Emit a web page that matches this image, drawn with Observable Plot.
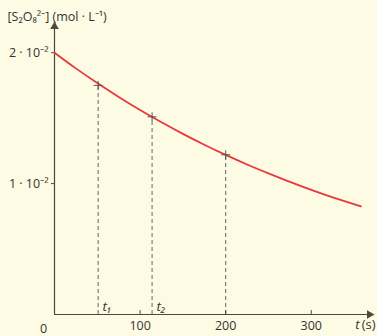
<!DOCTYPE html>
<html><head><meta charset="utf-8">
<script src="https://cdn.jsdelivr.net/npm/d3@7"></script>
<script src="https://cdn.jsdelivr.net/npm/@observablehq/plot@0.6"></script>
<style>
html,body{margin:0;padding:0;background:#fdfbe3;}
</style></head>
<body><div id="chart"></div>
<script>
// curve readings: time (s) and concentration (mol/L)
const times = [0, 25, 50, 75, 100, 125, 150, 175, 200, 225, 250, 275, 300, 325, 358];
const concs = [0.0200, 0.0188, 0.01768, 0.01662, 0.01562, 0.01468, 0.0138, 0.01297, 0.01219, 0.01146, 0.01078, 0.01013, 0.00952, 0.00895, 0.00826];
// marked points
const markTimes = [51, 114, 200];
const markConcs = [0.0175, 0.0151, 0.0122];
const markLabels = ["t\u2081", "t\u2082", ""];
// ticks
const xTicks = [100, 200, 300];
const yTicks = [0.01, 0.02];
const yTickLabels = ["1 \u00b7 10\u207b\u00b2", "2 \u00b7 10\u207b\u00b2"];
const yTitle = "[S\u2082O\u2088\u00b2\u207b] (mol \u00b7 L\u207b\u00b9)";

const curve = times.map((t, i) => ({t, c: concs[i]}));
const marks = markTimes.map((t, i) => ({t, c: markConcs[i], label: markLabels[i]}));
const axisColor = "#4a4a40";
const font = "Open Sans, sans-serif";

const plot = Plot.plot({
  width: 377, height: 336,
  marginLeft: 54, marginRight: 8, marginTop: 26, marginBottom: 22,
  style: {background: "#fdfbe3", fontFamily: font, fontSize: "12px", color: "#333"},
  x: {domain: [0, 368]},
  y: {domain: [0, 0.022]},
  marks: [
    Plot.ruleX(marks, {x: "t", y1: 0, y2: "c", stroke: "#666", strokeDasharray: "4,3", strokeWidth: 1}),
    Plot.ruleX([0], {stroke: axisColor, strokeWidth: 1.2}),
    Plot.ruleY([0], {stroke: axisColor, strokeWidth: 1.2}),
    Plot.dot([0], {x: 0, y: 0.022, symbol: "triangle", r: 3.2, fill: axisColor, stroke: null}),
    Plot.dot([0], {x: 368, y: 0, symbol: "triangle", rotate: 90, r: 3.2, fill: axisColor, stroke: null}),
    Plot.axisY({ticks: yTicks, tickFormat: (d) => yTickLabels[yTicks.indexOf(d)], tickSize: 3, tickPadding: 3, stroke: axisColor, fill: "#333", fontSize: 12.5, label: null}),
    Plot.axisX({ticks: xTicks, tickSize: 4, dy: -4, tickFormat: () => "", stroke: axisColor, label: null}),
    Plot.axisX({ticks: xTicks, tickSize: 0, tickPadding: 7, fill: "#333", fontSize: 12.5, label: null}),
    Plot.text(["0"], {x: 0, y: 0, dx: -11, dy: 14, fill: "#333", fontSize: 12.5}),
    Plot.line(curve, {x: "t", y: "c", stroke: "#e8383d", strokeWidth: 1.8, curve: "natural"}),
    Plot.dot(marks, {x: "t", y: "c", symbol: "plus", r: 3, stroke: "#555", strokeWidth: 1}),
    Plot.text(marks, {x: "t", y: 0, text: "label", dx: 9, dy: -8, fontStyle: "italic", fontSize: 13.5, fill: "#333"}),
    Plot.text(["t"], {frameAnchor: "bottom-right", dx: -10, dy: 14, fontStyle: "italic", fontSize: 13, fill: "#333", textAnchor: "end"}),
    Plot.text(["(s)"], {frameAnchor: "bottom-right", dx: 6, dy: 14, fontSize: 13, fill: "#333", textAnchor: "end"}),
    Plot.text([yTitle], {frameAnchor: "top-left", dx: -47, dy: -14, textAnchor: "start", fontSize: 12.5, fill: "#333"})
  ]
});
document.getElementById("chart").appendChild(plot);
</script></body></html>
